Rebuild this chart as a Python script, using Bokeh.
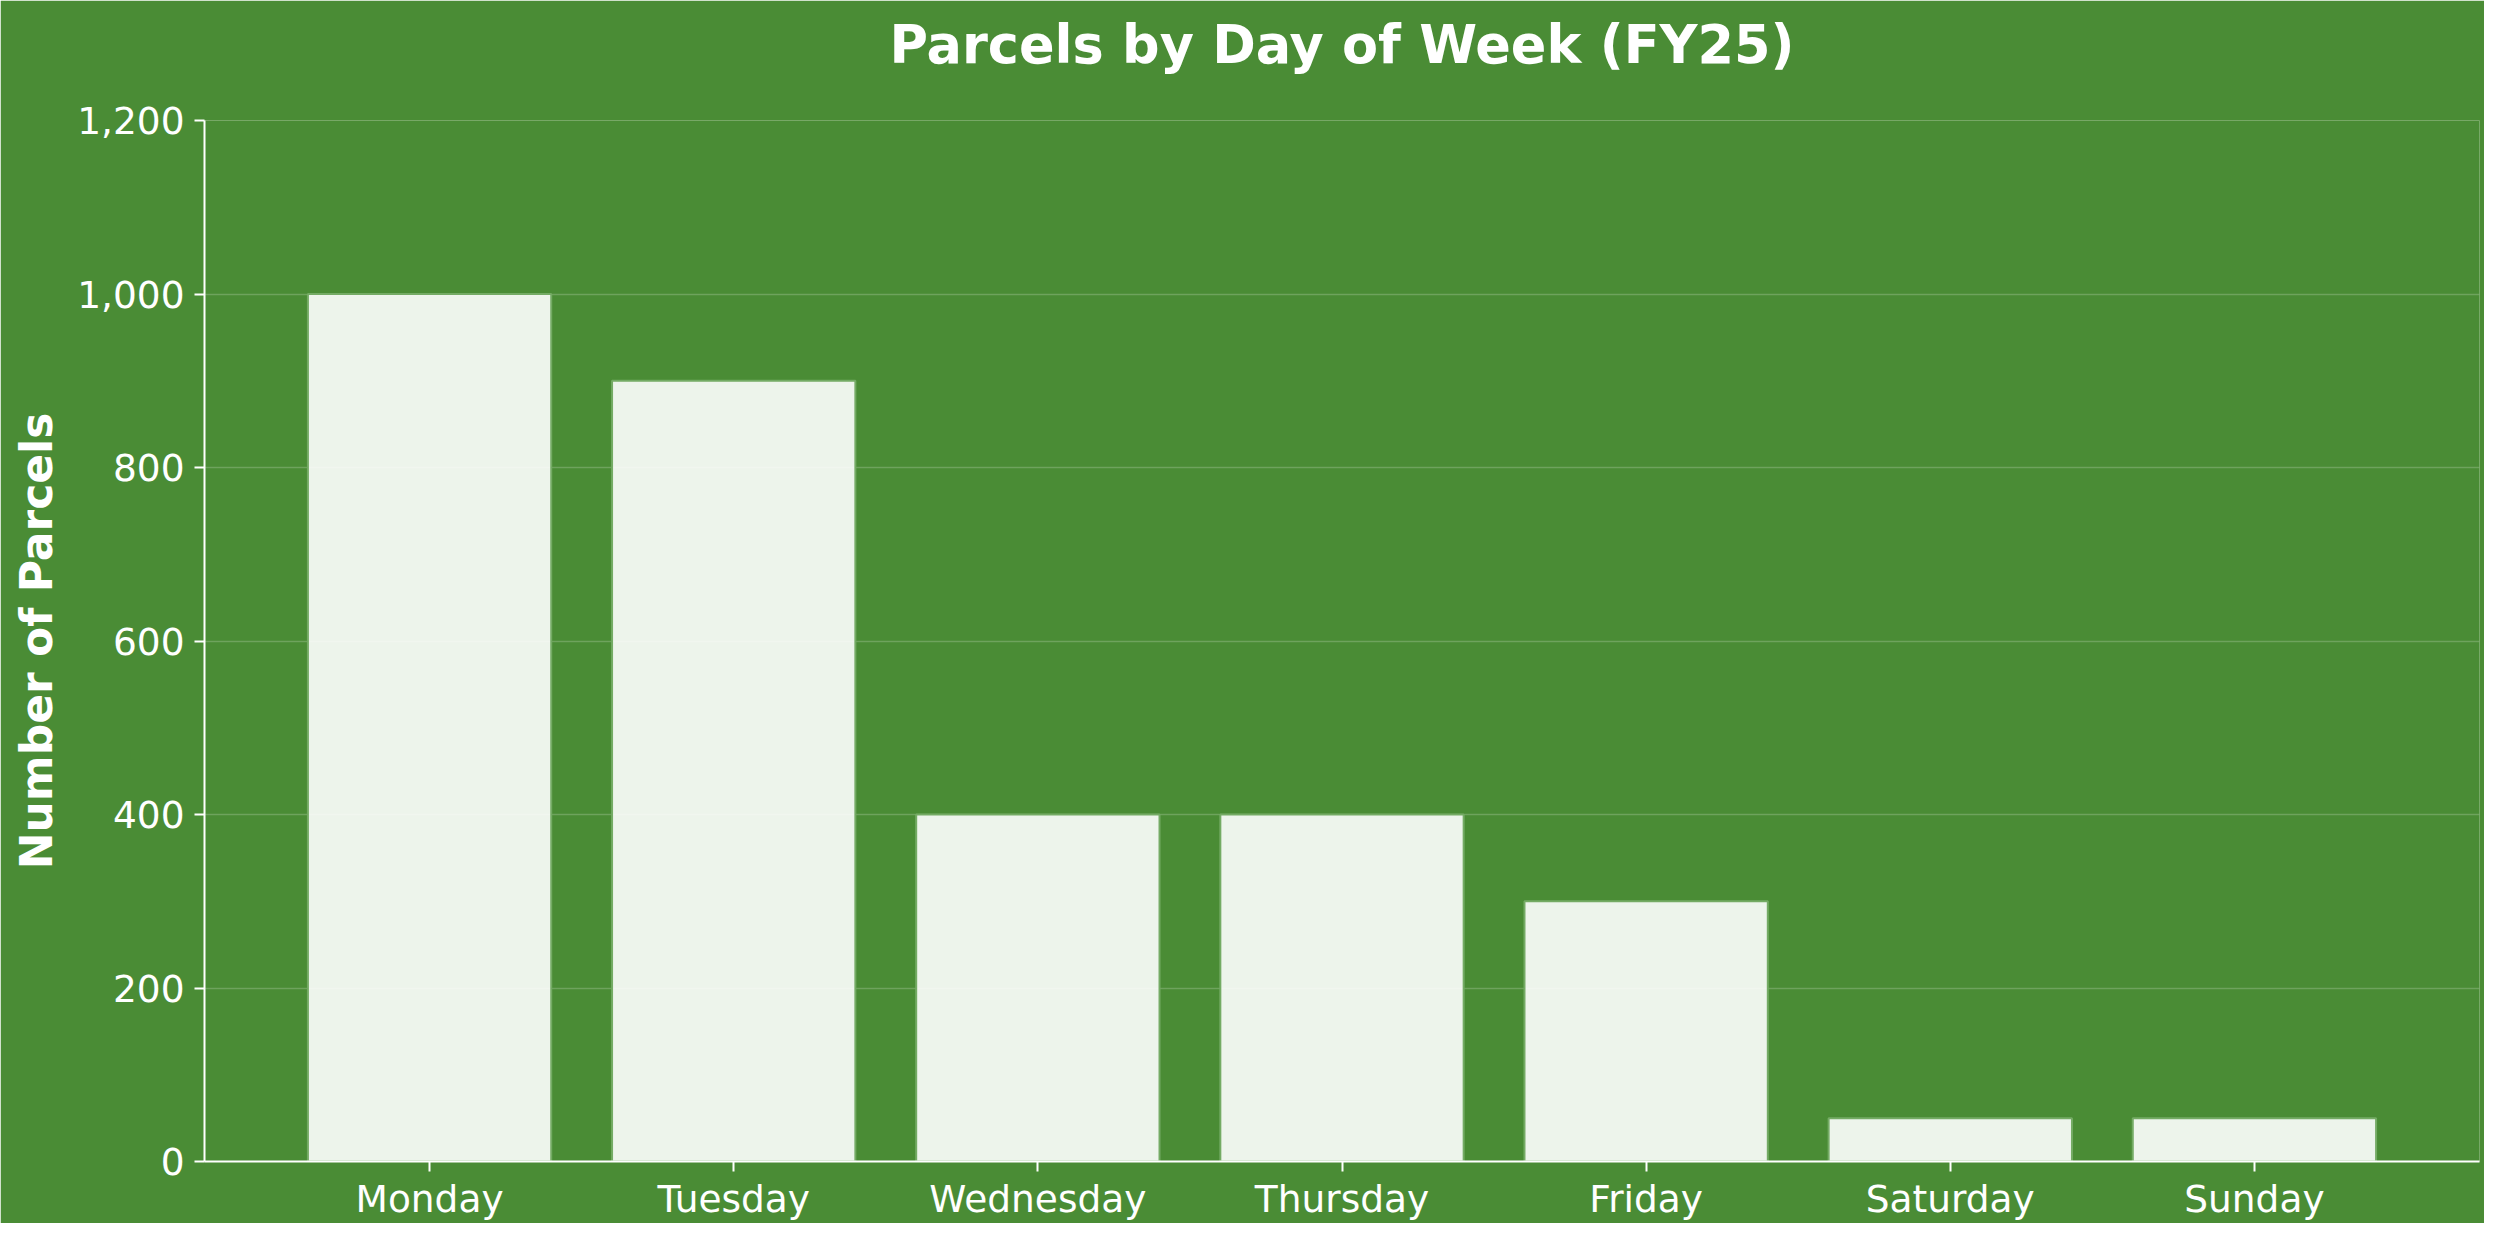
from bokeh.plotting import figure
from bokeh.models import ColumnDataSource, FactorRange, NumeralTickFormatter, FixedTicker, Range1d, Label
from bokeh.embed import file_html
from bokeh.resources import INLINE

# data
days = ["Monday", "Tuesday", "Wednesday", "Thursday", "Friday", "Saturday", "Sunday"]
parcels = [1000, 900, 400, 400, 300, 50, 50]
y_ticks = [0, 200, 400, 600, 800, 1000, 1200]
title_text = "Parcels by Day of Week (FY25)"

BG = "#4a8c35"
FONT = "DejaVu Sans"
FRAME_W = 2275

source = ColumnDataSource(data=dict(day=days, parcels=parcels))

p = figure(x_range=FactorRange(factors=days, range_padding=0.24, range_padding_units="absolute"),
           y_range=Range1d(0, 1200),
           width=2484, height=1223,
           output_backend="svg", toolbar_location=None, tools="")

p.min_border_left = 204
p.min_border_right = 5
p.min_border_top = 120
p.min_border_bottom = 62

p.background_fill_color = BG
p.border_fill_color = BG
p.outline_line_color = None

p.vbar(x="day", top="parcels", width=0.8, source=source,
       fill_color="white", fill_alpha=0.9,
       line_color="#74ab64", line_width=2)

# title as a label in the top panel
title = Label(x=FRAME_W / 2, y=76, x_units="screen", y_units="screen",
              text=title_text, text_align="center", text_baseline="alphabetic",
              text_font=FONT, text_font_size="52.5px", text_font_style="bold",
              text_color="white")
p.add_layout(title, "above")

# axes
for ax in (p.xaxis[0], p.yaxis[0]):
    ax.axis_line_color = "white"
    ax.axis_line_width = 2
    ax.major_tick_line_color = "white"
    ax.major_tick_line_width = 2
    ax.major_tick_out = 10
    ax.major_tick_in = 0
    ax.minor_tick_line_color = None
    ax.major_label_text_color = "white"
    ax.major_label_text_font = FONT
    ax.major_label_text_font_size = "37.5px"

p.xaxis.major_label_standoff = 5
p.yaxis.major_label_standoff = 10

p.yaxis.ticker = FixedTicker(ticks=y_ticks)
p.yaxis.formatter = NumeralTickFormatter(format="0,0")
p.yaxis.axis_label = "Number of Parcels"
p.yaxis.axis_label_text_font = FONT
p.yaxis.axis_label_text_font_size = "44px"
p.yaxis.axis_label_text_font_style = "bold"
p.yaxis.axis_label_text_color = "white"
p.yaxis.axis_label_standoff = 12

p.xgrid.grid_line_color = None
p.ygrid.grid_line_color = "white"
p.ygrid.grid_line_alpha = 0.2
p.ygrid.grid_line_width = 1.5

open("out.html", "w").write(file_html(p, INLINE))
